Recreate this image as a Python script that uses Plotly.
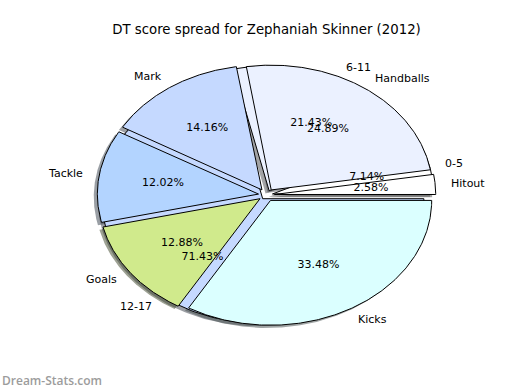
import numpy as np
import plotly.graph_objects as go

# ---------------- data ----------------
title_text = "DT score spread for Zephaniah Skinner (2012)"
stat_labels = ["Hitout", "Handballs", "Mark", "Tackle", "Goals", "Kicks"]
stat_values = [2.58, 24.89, 14.16, 12.02, 12.88, 33.48]
stat_colors = ["#ffffff", "#ebf1ff", "#c5d9ff", "#b3d4ff", "#d0ea8c", "#dbffff"]

range_labels = ["0-5", "6-11", "12-17"]
range_values = [7.14, 21.43, 71.43]
range_colors = ["#ffffff", "#ebf1ff", "#c5d9ff"]

# ---------------- style ----------------
FG_EXPLODE = 0.05
BG_EXPLODE = 0.038
SHADOW_OFF = -0.02 * 80 / 72
FONT = "DejaVu Sans"
W, H = 520, 390
ML, MR, MT, MB = 65, 52, 39, 39
PW, PH = W - ML - MR, H - MT - MB


def wedge_geometry(values, explode):
    total = float(sum(values))
    theta1 = 0.0
    out = []
    for v in values:
        theta2 = theta1 + 360.0 * v / total
        mid = np.deg2rad((theta1 + theta2) / 2.0)
        cx, cy = explode * np.cos(mid), explode * np.sin(mid)
        arc = np.deg2rad(np.linspace(theta1, theta2, 200))
        xs = np.concatenate([[cx], cx + np.cos(arc), [cx]])
        ys = np.concatenate([[cy], cy + np.sin(arc), [cy]])
        out.append(dict(x=xs, y=ys, cx=cx, cy=cy, mid=mid, pct=100.0 * v / total))
        theta1 = theta2
    return out


def shadow_color(hexc):
    h = hexc.lstrip("#")
    r, g, b = (int(h[i:i + 2], 16) for i in (0, 2, 4))
    return "rgba(%d,%d,%d,0.5)" % (round(0.3 * r), round(0.3 * g), round(0.3 * b))


bg = wedge_geometry(range_values, BG_EXPLODE)
fg = wedge_geometry(stat_values, FG_EXPLODE)

fig = go.Figure()

# shadows (drawn beneath every wedge)
for geo_list, colors in ((bg, range_colors), (fg, stat_colors)):
    for g, c in zip(geo_list, colors):
        sc = shadow_color(c)
        fig.add_trace(go.Scatter(
            x=g["x"] + SHADOW_OFF, y=g["y"] + SHADOW_OFF, mode="lines",
            fill="toself", fillcolor=sc, line=dict(width=0, color=sc),
            hoverinfo="skip", showlegend=False))

# wedges
for geo_list, colors, labels in ((bg, range_colors, range_labels), (fg, stat_colors, stat_labels)):
    for g, c, lab in zip(geo_list, colors, labels):
        fig.add_trace(go.Scatter(
            x=g["x"], y=g["y"], mode="lines", fill="toself", fillcolor=c,
            line=dict(width=1, color="black"), name=lab,
            hoverinfo="name", showlegend=False))

# texts
annotations = []
for geo_list, labels in ((bg, range_labels), (fg, stat_labels)):
    px, py, pt = [], [], []
    for g, lab in zip(geo_list, labels):
        xt = g["cx"] + 1.1 * np.cos(g["mid"])
        yt = g["cy"] + 1.1 * np.sin(g["mid"])
        annotations.append(dict(
            x=xt, y=yt, xref="x", yref="y", text=lab, showarrow=False,
            xanchor="left" if xt > 0 else "right", yanchor="middle",
            borderpad=0, borderwidth=0,
            font=dict(family=FONT, size=11, color="black")))
        px.append(g["cx"] + 0.6 * np.cos(g["mid"]))
        py.append(g["cy"] + 0.6 * np.sin(g["mid"]))
        pt.append("%.2f%%" % g["pct"])
    fig.add_trace(go.Scatter(
        x=px, y=py, mode="text", text=pt, textposition="middle center",
        textfont=dict(family=FONT, size=11, color="black"),
        hoverinfo="skip", showlegend=False))

annotations.append(dict(
    x=-ML / PW, y=-(380 - (H - MB)) / PH, xref="paper", yref="paper",
    text="Dream-Stats.com", xanchor="left", yanchor="middle", showarrow=False,
    font=dict(family="Open Sans", size=12, color="#9c9c9c", weight=600)))

fig.update_layout(
    width=W, height=H,
    margin=dict(l=ML, r=MR, t=MT, b=MB),
    paper_bgcolor="white", plot_bgcolor="white",
    title=dict(text=title_text, x=(ML + W - MR) / 2 / W, xanchor="center",
               y=1 - 29 / H, yanchor="middle", yref="container",
               font=dict(family=FONT, size=13.3, color="black")),
    xaxis=dict(range=[-1.25, 1.25], visible=False, fixedrange=True),
    yaxis=dict(range=[-1.25, 1.25], visible=False, fixedrange=True),
    annotations=annotations,
    showlegend=False,
)

fig.write_html(
    "out.html",
    config={"displayModeBar": False},
    post_script="document.body.style.margin='0px';document.body.style.overflow='hidden';",
)
